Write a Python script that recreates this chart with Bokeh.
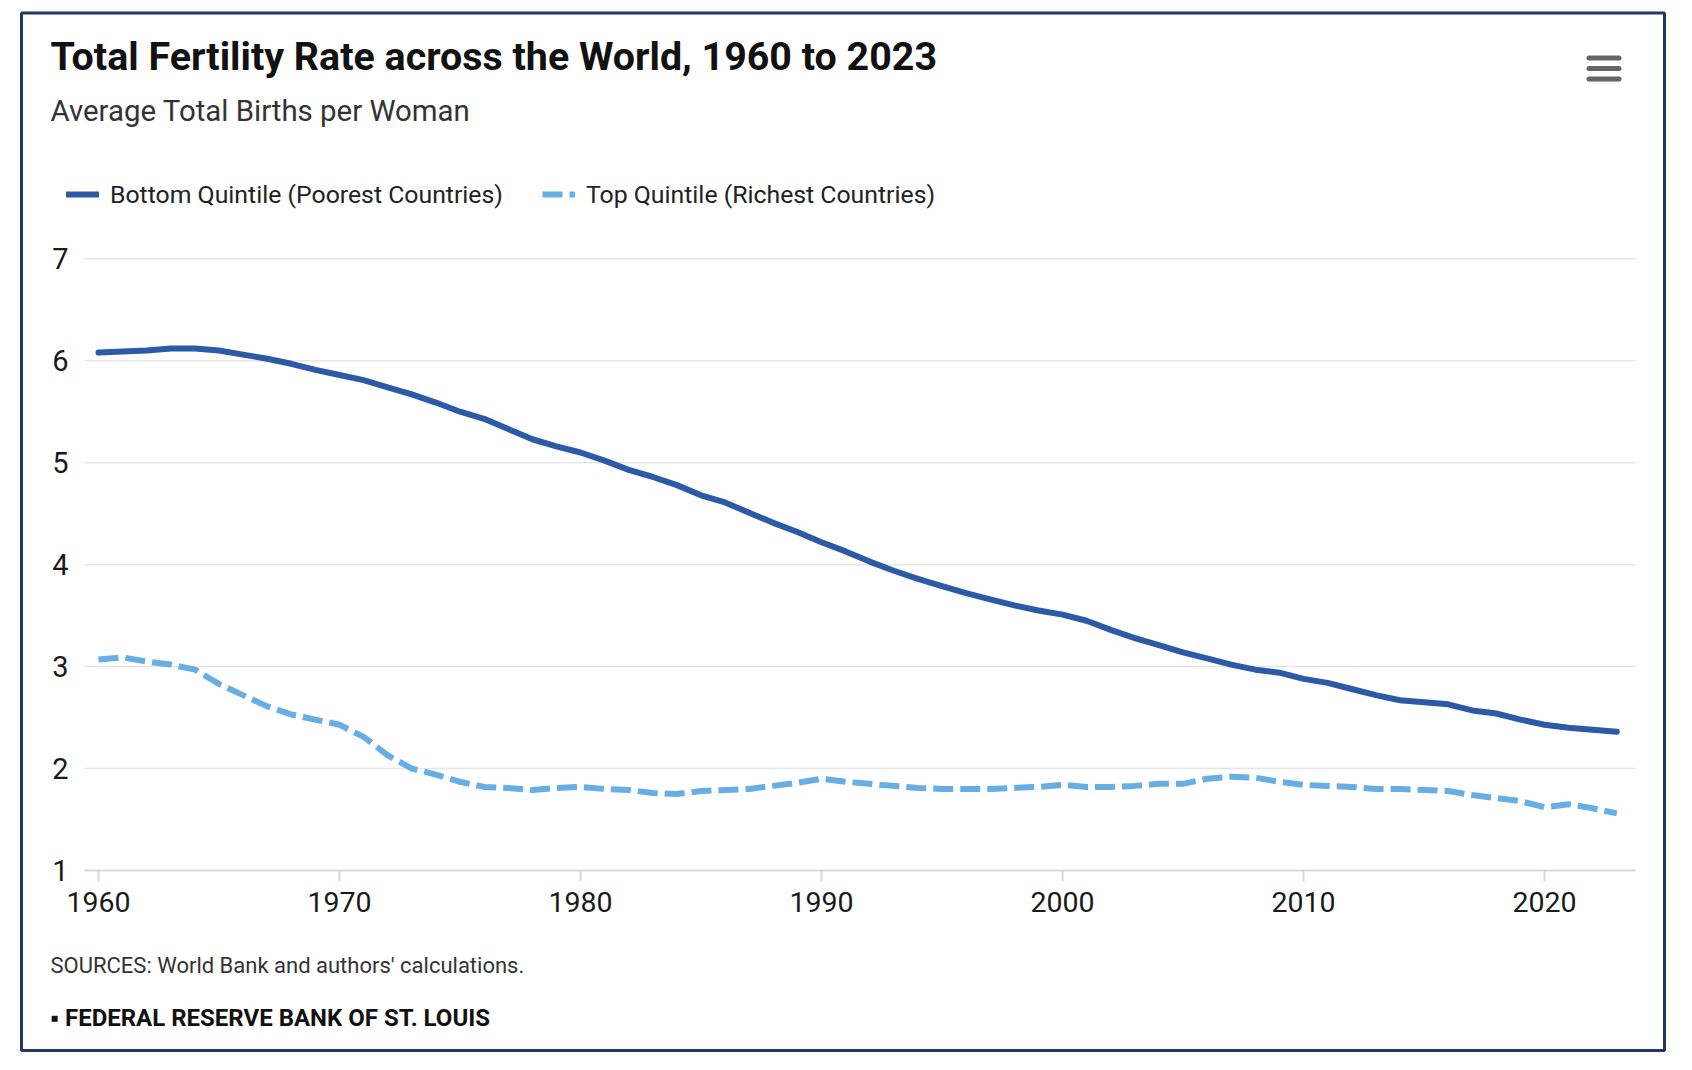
from bokeh.plotting import figure
from bokeh.models import (Range1d, FixedTicker, Label, Legend, LegendItem,
                          BoxAnnotation)
from bokeh.embed import file_html
from bokeh.resources import INLINE

# ---------------- data ----------------
years = list(range(1960, 2024))
bottom_quintile = [
    6.08, 6.09, 6.10, 6.12, 6.12, 6.10, 6.06, 6.02, 5.97, 5.91,
    5.86, 5.81, 5.74, 5.67, 5.59, 5.50, 5.43, 5.33, 5.23, 5.16,
    5.10, 5.02, 4.93, 4.86, 4.78, 4.68, 4.61, 4.51, 4.41, 4.32,
    4.22, 4.13, 4.03, 3.94, 3.86, 3.79, 3.72, 3.66, 3.60, 3.55,
    3.51, 3.45, 3.36, 3.28, 3.21, 3.14, 3.08, 3.02, 2.97, 2.94,
    2.88, 2.84, 2.78, 2.72, 2.67, 2.65, 2.63, 2.57, 2.54, 2.48,
    2.43, 2.40, 2.38, 2.36,
]
top_quintile = [
    3.07, 3.09, 3.05, 3.02, 2.97, 2.83, 2.72, 2.61, 2.53, 2.48,
    2.43, 2.31, 2.13, 2.00, 1.94, 1.87, 1.82, 1.81, 1.79, 1.81,
    1.82, 1.80, 1.79, 1.76, 1.75, 1.78, 1.79, 1.80, 1.83, 1.86,
    1.90, 1.87, 1.85, 1.83, 1.81, 1.80, 1.80, 1.80, 1.81, 1.82,
    1.84, 1.82, 1.82, 1.83, 1.85, 1.85, 1.90, 1.92, 1.91, 1.87,
    1.84, 1.83, 1.82, 1.80, 1.80, 1.79, 1.78, 1.74, 1.71, 1.68,
    1.62, 1.65, 1.61, 1.56,
]
series_names = ["Bottom Quintile (Poorest Countries)", "Top Quintile (Richest Countries)"]
x_ticks = [1960, 1970, 1980, 1990, 2000, 2010, 2020]
y_ticks = [1, 2, 3, 4, 5, 6, 7]
x_bounds = (1959.42, 2023.78)     # extent of the plotting area (years)

title_text = "Total Fertility Rate across the World, 1960 to 2023"
subtitle_text = "Average Total Births per Woman"
source_text = "SOURCES: World Bank and authors' calculations."
footer_text = "\u25aa FEDERAL RESERVE BANK OF ST. LOUIS"

# ---------------- layout ----------------
W, H = 1672, 1052
OX, OY = 1, 6          # page position of the canvas' top-left corner (calibrated)
FONT = "Roboto"

def fx(px):
    return px - OX

def fy(py):
    return OY + H - py

p = figure(width=W, height=H, output_backend="svg", toolbar_location=None,
           title=None,
           x_range=Range1d(1955.934, 2025.311), y_range=Range1d(-0.7852, 9.5336),
           min_border_left=0, min_border_right=0,
           min_border_top=0, min_border_bottom=0)
p.outline_line_color = None
p.background_fill_color = "white"
p.border_fill_color = "white"
p.xgrid.visible = False
p.ygrid.visible = False

# horizontal grid lines, only across the plotting area
p.segment(x0=[x_bounds[0]] * (len(y_ticks) - 1), y0=y_ticks[1:],
          x1=[x_bounds[1]] * (len(y_ticks) - 1), y1=y_ticks[1:],
          line_color="#e6e6e6", line_width=1.5)

# x axis, fixed at y = 1
xa = p.xaxis[0]
xa.fixed_location = y_ticks[0]
xa.bounds = x_bounds
xa.ticker = FixedTicker(ticks=x_ticks)
xa.axis_line_color = "#d9d9d9"
xa.axis_line_width = 2
xa.major_tick_line_color = "#d9d9d9"
xa.major_tick_line_width = 2
xa.major_tick_in = 0
xa.major_tick_out = 11
xa.minor_tick_line_color = None
xa.major_label_text_font = FONT
xa.major_label_text_font_size = "28.5px"
xa.major_label_text_color = "#1a1a1a"
xa.major_label_standoff = 11

# y axis, fixed at the left edge of the plotting area
ya = p.yaxis[0]
ya.fixed_location = x_bounds[0]
ya.ticker = FixedTicker(ticks=y_ticks)
ya.axis_line_color = None
ya.major_tick_line_color = None
ya.minor_tick_line_color = None
ya.major_label_text_font = FONT
ya.major_label_text_font_size = "29px"
ya.major_label_text_color = "#1a1a1a"
ya.major_label_standoff = 10

# series
r_bottom = p.line(years, bottom_quintile, line_color="#2d5aa6", line_width=6,
                  line_join="round", line_cap="round")
r_top = p.line(years, top_quintile, line_color="#66aee3", line_width=6,
               line_dash="20 7", line_join="round", line_cap="butt")

# legend
legend = Legend(items=[LegendItem(label=series_names[0], renderers=[r_bottom]),
                       LegendItem(label=series_names[1], renderers=[r_top])],
                orientation="horizontal", location=(fx(67), fy(214.5)),
                padding=0, margin=0, spacing=39, label_standoff=11,
                glyph_width=33, glyph_height=26, label_height=26,
                label_text_font=FONT, label_text_font_size="24.8px",
                label_text_color="#222222", border_line_color=None,
                background_fill_alpha=0)
p.add_layout(legend, "center")

# texts
p.add_layout(Label(x=fx(51), y=fy(62), x_units="screen", y_units="screen",
                   text=title_text, text_font=FONT, text_font_size="39.4px",
                   text_font_style="bold", text_color="#111111",
                   text_baseline="alphabetic"))
p.add_layout(Label(x=fx(51), y=fy(116), x_units="screen", y_units="screen",
                   text=subtitle_text, text_font=FONT, text_font_size="29.4px",
                   text_color="#333333", text_baseline="alphabetic"))
p.add_layout(Label(x=fx(51), y=fy(971), x_units="screen", y_units="screen",
                   text=source_text, text_font=FONT, text_font_size="22px",
                   text_color="#333333", text_baseline="alphabetic"))
p.add_layout(Label(x=fx(51), y=fy(1023), x_units="screen", y_units="screen",
                   text=footer_text, text_font=FONT, text_font_size="24px",
                   text_font_style="bold", text_color="#111111",
                   text_baseline="alphabetic"))

# outer border
p.add_layout(BoxAnnotation(left=fx(22), right=fx(1665), top=fy(18.5), bottom=fy(1056),
                           left_units="screen", right_units="screen",
                           top_units="screen", bottom_units="screen",
                           fill_alpha=0, line_color="#1f3963", line_alpha=1,
                           line_width=3))

# menu icon (three bars)
for cy in (63.5, 74, 84.5):
    p.add_layout(BoxAnnotation(left=fx(1587), right=fx(1622), top=fy(cy - 2.5), bottom=fy(cy + 2.5),
                               left_units="screen", right_units="screen",
                               top_units="screen", bottom_units="screen",
                               fill_color="#666666", fill_alpha=1, line_color=None,
                               border_radius=3))

open("out.html", "w").write(file_html(p, INLINE))
